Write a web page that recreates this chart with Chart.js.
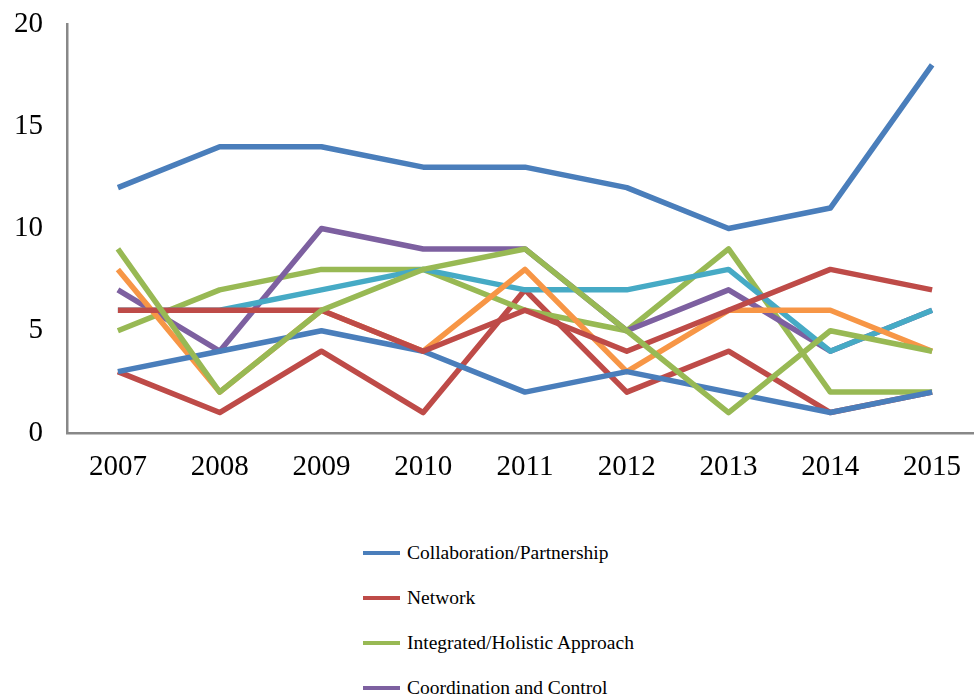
<!DOCTYPE html>
<html>
<head>
<meta charset="utf-8">
<script src="https://cdn.jsdelivr.net/npm/chart.js@4.4.0/dist/chart.umd.min.js"></script>
<style>
  html, body { margin: 0; padding: 0; background: #fff; overflow: hidden; }
  #wrap { position: relative; width: 990px; height: 500px; }
  #legend {
    position: absolute; left: 363px; top: 530px; margin: 0; padding: 0; list-style: none;
    font-family: 'Liberation Serif', 'Times New Roman', serif; font-size: 19.5px; color: #000;
  }
  #legend li { height: 45px; display: flex; align-items: center; white-space: nowrap; }
  #legend .swatch { display: inline-block; width: 37px; height: 4px; margin-right: 7px; }
</style>
</head>
<body>
<div id="wrap"><canvas id="trendChart"></canvas></div>
<ul id="legend"></ul>
<script>
// Data
const years = ['2007', '2008', '2009', '2010', '2011', '2012', '2013', '2014', '2015'];
const yTicks = [0, 5, 10, 15, 20];

const collaboration = [12, 14, 14, 13, 13, 12, 10, 11, 18];
const network       = [3, 1, 4, 1, 7, 2, 4, 1, 2];
const integrated    = [5, 7, 8, 8, 6, 5, 9, 2, 2];
const coordination  = [7, 4, 10, 9, 9, 5, 7, 4, 6];
const series5       = [6, 6, 7, 8, 7, 7, 8, 4, 6];
const series6       = [8, 2, 6, 4, 8, 3, 6, 6, 4];
const series7       = [3, 4, 5, 4, 2, 3, 2, 1, 2];
const series8       = [6, 6, 6, 4, 6, 4, 6, 8, 7];
const series9       = [9, 2, 6, 8, 9, 5, 1, 5, 4];

const seriesNames = [
    'Collaboration/Partnership', 'Network', 'Integrated/Holistic Approach', 'Coordination and Control',
    'Series 5', 'Series 6', 'Series 7', 'Series 8', 'Series 9'
];
const seriesData = [collaboration, network, integrated, coordination, series5, series6, series7, series8, series9];
const seriesColors = ['#4a7ebb', '#be4b48', '#98b954', '#7d60a0', '#46aac5', '#f79646', '#4a7ebb', '#be4b48', '#98b954'];

const tickFont = { family: "'Liberation Serif', 'Times New Roman', serif", size: 29 };

// later series sit on top, as in the original
const datasets = seriesData.map((d, i) => ({
    label: seriesNames[i],
    data: d,
    borderColor: seriesColors[i],
    backgroundColor: seriesColors[i],
    order: seriesData.length - i
}));

new Chart(document.getElementById('trendChart'), {
    type: 'line',
    data: { labels: years, datasets: datasets },
    options: {
        responsive: true,
        maintainAspectRatio: false,
        animation: false,
        layout: { padding: { top: 24, right: 7, bottom: 0, left: 0 } },
        elements: {
            point: { radius: 0, hoverRadius: 0 },
            line: { tension: 0, borderWidth: 5.5, borderJoinStyle: 'round', fill: false }
        },
        plugins: {
            legend: { display: false },
            tooltip: { enabled: false }
        },
        scales: {
            x: {
                offset: true,
                grid: { display: false, drawTicks: false },
                border: { color: '#888888', width: 2.5 },
                ticks: { font: tickFont, color: '#000', padding: 17, maxRotation: 0 },
                afterFit: s => { s.height = 67; s.paddingLeft = 0; s.paddingRight = 0; }
            },
            y: {
                min: 0,
                max: 20,
                afterBuildTicks: s => { s.ticks = yTicks.map(v => ({ value: v })); },
                grid: { display: false, drawTicks: false },
                border: { color: '#888888', width: 2.5 },
                ticks: { font: tickFont, color: '#000', padding: 24 },
                afterFit: s => { s.width = 67; s.paddingTop = 0; s.paddingBottom = 0; }
            }
        }
    }
});

// html legend, one entry per line
const legendEl = document.getElementById('legend');
datasets.forEach(ds => {
    const li = document.createElement('li');
    const sw = document.createElement('span');
    sw.className = 'swatch';
    sw.style.background = ds.borderColor;
    li.appendChild(sw);
    li.appendChild(document.createTextNode(ds.label));
    legendEl.appendChild(li);
});
</script>
</body>
</html>
